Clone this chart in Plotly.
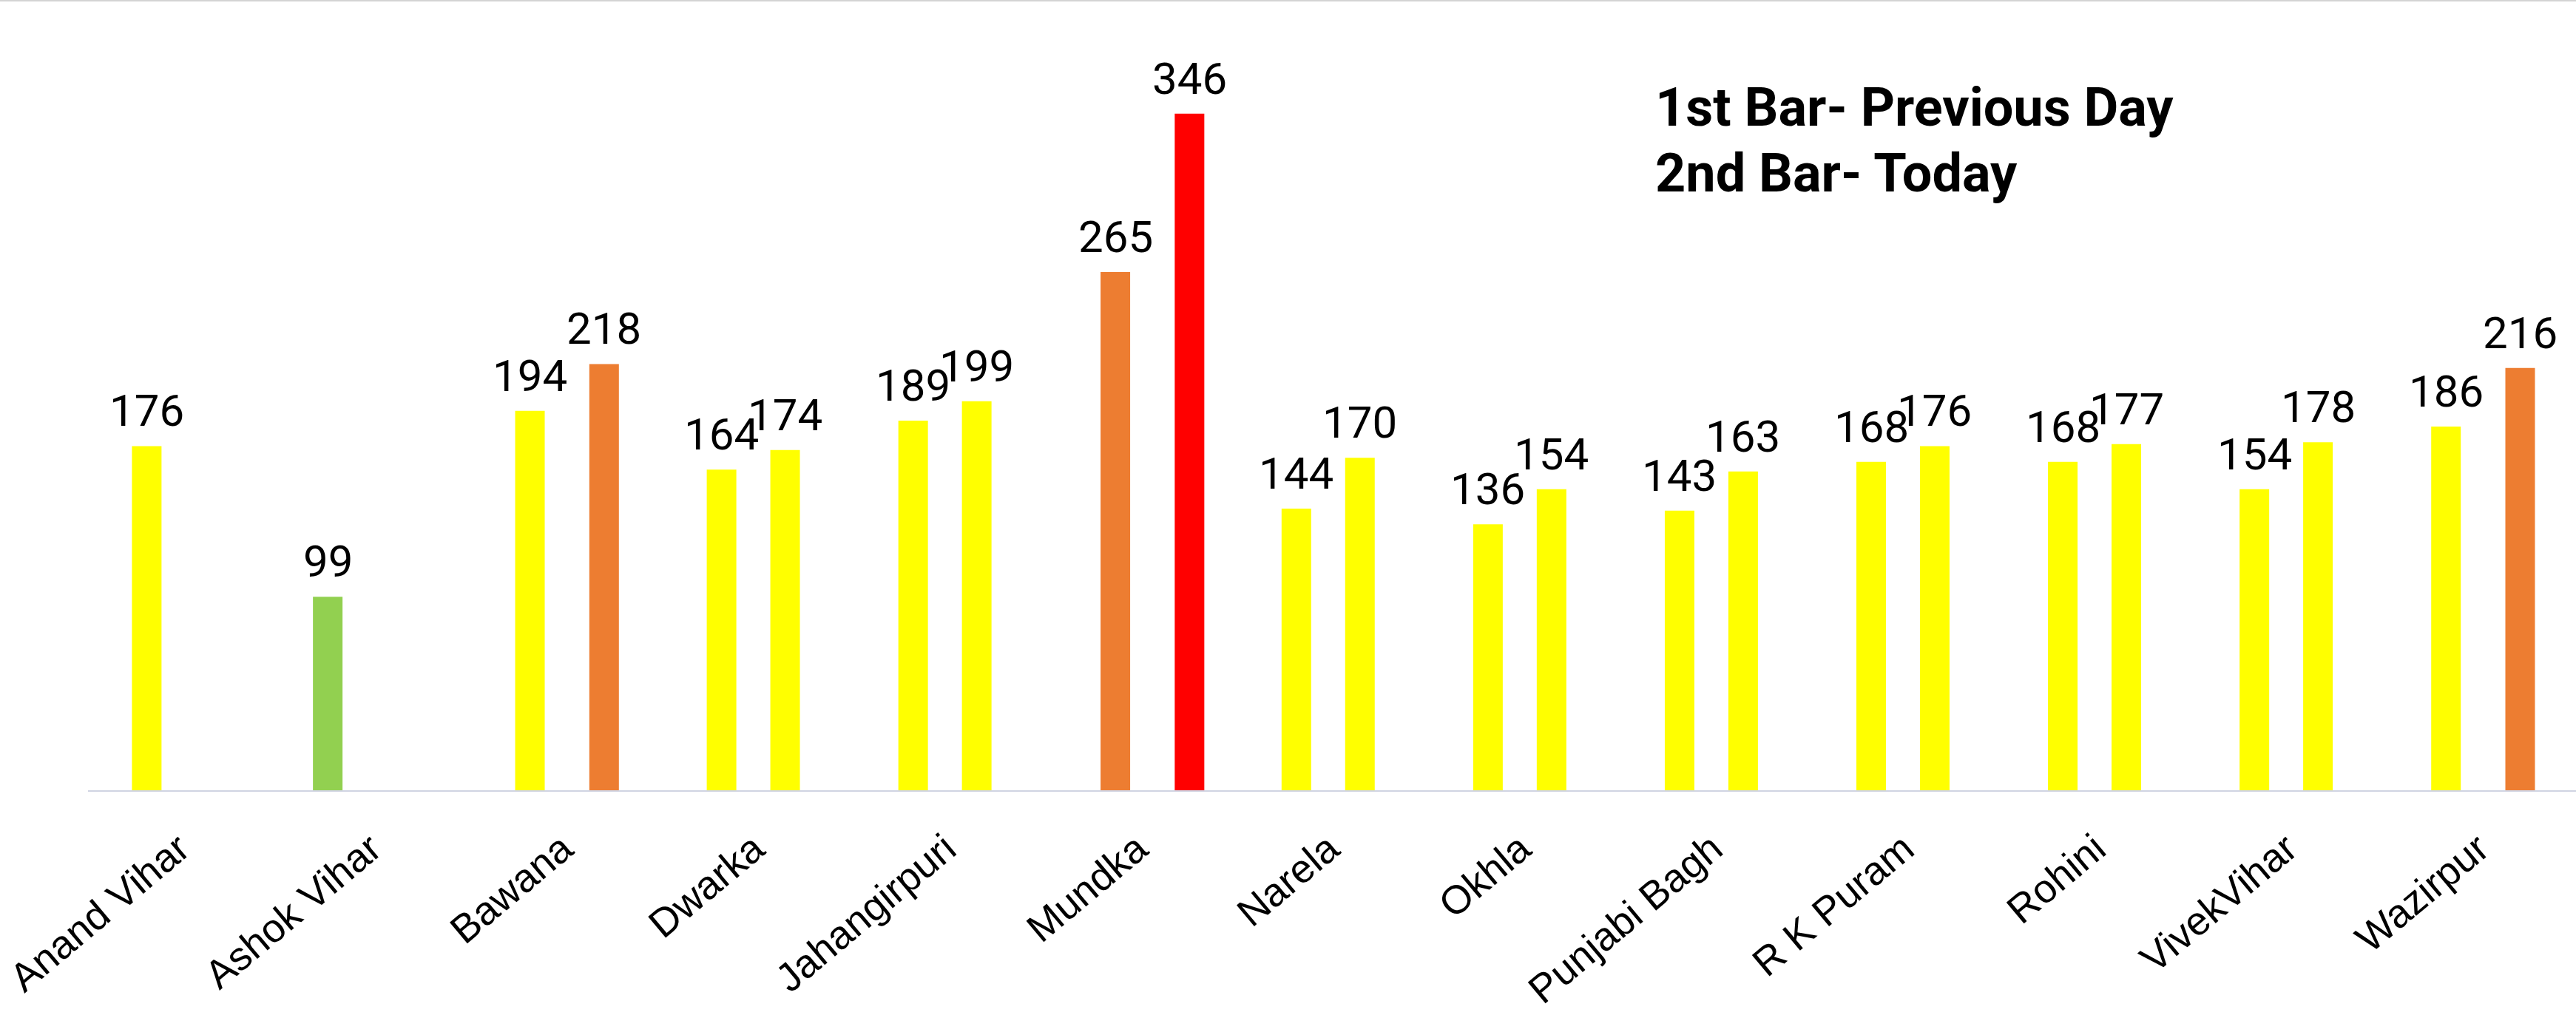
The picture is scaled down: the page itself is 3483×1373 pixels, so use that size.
import plotly.graph_objects as go

# ---------------- data ----------------
categories = ["Anand Vihar", "Ashok Vihar", "Bawana", "Dwarka", "Jahangirpuri", "Mundka",
              "Narela", "Okhla", "Punjabi Bagh", "R K Puram", "Rohini", "VivekVihar", "Wazirpur"]
previous_day = [176, 99, 194, 164, 189, 265, 144, 136, 143, 168, 168, 154, 186]
today = [None, None, 218, 174, 199, 346, 170, 154, 163, 176, 177, 178, 216]
legend_lines = ["1st Bar- Previous Day", "2nd Bar- Today"]

# ---------------- style ----------------
W, H = 3483, 1373
ML, MR, MT, MB = 119, 0, 11, 304
BAND_COLORS = {"Satisfactory": "#92D050", "Moderate": "#FFFF00",
               "Poor": "#ED7D31", "Very Poor": "#FF0000"}
SLOT = {("prev", "Satisfactory"): -4.5, ("prev", "Moderate"): -3.5,
        ("prev", "Poor"): -2.5, ("prev", "Very Poor"): -1.5,
        ("today", "Satisfactory"): 1.5, ("today", "Moderate"): 2.5,
        ("today", "Poor"): 3.5, ("today", "Very Poor"): 4.5}
STEP = 0.0553
BAR_W = 0.1544
X_RANGE = [-0.5, 12.485]
Y_RANGE = [0, 400]
VALUE_FONT = dict(family="Roboto, sans-serif", size=60, color="black")
TICK_FONT = dict(family="Liberation Sans, Arial, sans-serif", size=54, color="black")
LEGEND_FONT = dict(family="Roboto, sans-serif", size=72, color="black", weight=700)


def band(v):
    if v <= 100:
        return "Satisfactory"
    if v <= 200:
        return "Moderate"
    if v <= 300:
        return "Poor"
    return "Very Poor"


fig = go.Figure()
annotations = []
for day, values in (("prev", previous_day), ("today", today)):
    for bname, color in BAND_COLORS.items():
        xs, ys = [], []
        for i, v in enumerate(values):
            if v is None or band(v) != bname:
                continue
            xs.append(i + SLOT[(day, bname)] * STEP)
            ys.append(v)
        if not xs:
            continue
        fig.add_trace(go.Bar(x=xs, y=ys, width=BAR_W, marker=dict(color=color, line=dict(width=0)),
                             showlegend=False, hoverinfo="skip"))
        for x, y in zip(xs, ys):
            annotations.append(dict(x=x, y=y, xref="x", yref="y", text=str(y), showarrow=False,
                                    xanchor="center", yanchor="bottom", yshift=10, font=VALUE_FONT))

plot_h = H - MT - MB
for line, ypx in zip(legend_lines, [145, 234]):
    annotations.append(dict(x=(2236 - ML) / (W - ML - MR), y=(H - MB - ypx) / plot_h,
                            xref="paper", yref="paper", text=line, showarrow=False,
                            xanchor="left", yanchor="middle", font=LEGEND_FONT))

fig.update_layout(
    width=W, height=H,
    margin=dict(l=ML, r=MR, t=MT, b=MB, pad=0),
    plot_bgcolor="white", paper_bgcolor="white",
    showlegend=False,
    annotations=annotations,
    xaxis=dict(range=X_RANGE, tickmode="array", tickvals=list(range(len(categories))),
               ticktext=categories, tickangle=-40, tickfont=TICK_FONT, showgrid=False,
               zeroline=False, showline=True, linecolor="#D0D4E2", linewidth=2,
               ticks="", automargin=False, ticklabelstandoff=24, ticklabelshift=-6,
               ticklabeloverflow="allow"),
    yaxis=dict(range=Y_RANGE, visible=False, showgrid=False, zeroline=False, automargin=False),
    shapes=[dict(type="line", xref="paper", yref="paper",
                 x0=-ML / (W - ML - MR), x1=1, y0=(H - MB - 1) / plot_h, y1=(H - MB - 1) / plot_h,
                 line=dict(color="#D4D4D4", width=2))],
)

fig.write_html("out.html", config={"displayModeBar": False},
               post_script="document.body.style.margin='0px';document.body.style.overflow='hidden';")
